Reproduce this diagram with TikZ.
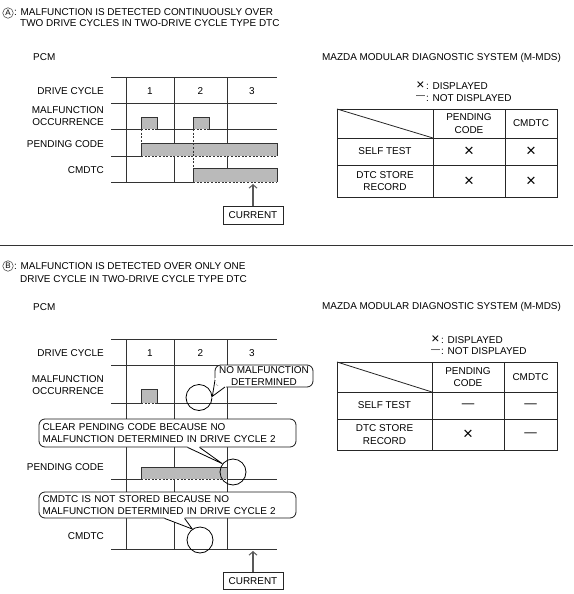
\documentclass[tikz,border=0pt]{standalone}
\usepackage{fontspec}
\setmainfont{Liberation Sans}
\usetikzlibrary{arrows.meta,calc}
\begin{document}
\begin{tikzpicture}[x=1pt,y=-1pt,
  txt/.style={inner sep=0pt, font=\fontsize{9.95}{12.5}\selectfont, text=black},
  gl/.style={line width=0.75pt, draw=black!80},
  dsh/.style={dash pattern=on 2pt off 1.6pt},
  barfill/.style={fill=black!27},
  tl/.style={line width=0.8pt, draw=black!85},
  sym/.style={inner sep=0pt, font=\fontsize{17}{17}\selectfont},
  dashsym/.style={inner sep=0pt, font=\fontsize{12.5}{12.5}\selectfont},
  curbox/.style={draw=black!85, line width=0.8pt, inner sep=0pt, minimum width=60pt, minimum height=17.5pt, font=\fontsize{9.95}{12}\selectfont},
  upar/.style={line width=1.3pt, draw=black!65, -{Straight Barb[length=3.5pt,width=8pt,line width=1pt]}},
  callbox/.style={draw=black!90, line width=0.8pt, fill=white, rounded corners=6pt, inner sep=0pt, font=\fontsize{9.95}{12.5}\selectfont},
  ring/.style={circle, draw=black, line width=0.8pt, minimum size=26pt, inner sep=0pt},
  circlab/.style={circle, draw=black!80, line width=0.5pt, inner sep=0pt, minimum size=10.5pt, font=\fontsize{8}{8}\selectfont}
]
\useasboundingbox (0,0) rectangle (573,594);

%%%%%%%%%%%%%%%% SECTION A %%%%%%%%%%%%%%%%
\node[circlab] (cA) at (8,13) {A};
\node[txt, anchor=west] (hA1) at (14,12.5) {: MALFUNCTION IS DETECTED CONTINUOUSLY OVER};
\node[txt, anchor=west] (hA2) at (20,23.5) {TWO DRIVE CYCLES IN TWO-DRIVE CYCLE TYPE DTC};
\node[txt, anchor=west] (pcmA) at (33,57) {PCM};

% grid
\draw[gl] (111,77) -- (277,77);
\draw[gl] (111,103) -- (277,103);
\draw[gl] (111,129) -- (141,129) (157,129) -- (193,129) (209,129) -- (277,129);
\draw[gl] (111,156) -- (141,156);
\draw[gl] (111,182) -- (193,182);
\draw[gl] (126,77) -- (126,182) (174,77) -- (174,182) (227,77) -- (227,168);

% labels
\node[txt, anchor=east] (dcA) at (104,91) {DRIVE CYCLE};
\node[txt, anchor=east, align=right] (moA) at (104,116) {MALFUNCTION\\OCCURRENCE};
\node[txt, anchor=east] (pcA) at (104,144) {PENDING CODE};
\node[txt, anchor=east] (cmA) at (104,170) {CMDTC};
\node[txt] (n1A) at (150,91) {1};
\node[txt] (n2A) at (200.5,91) {2};
\node[txt] (n3A) at (252,91) {3};

% pulses
\fill[barfill] (141,117) rectangle (157,129);
\draw[gl] (141,129) -- (141,117) -- (157,117) -- (157,129);
\draw[gl,dsh] (141,129) -- (157,129);
\fill[barfill] (193,117) rectangle (209,129);
\draw[gl] (193,129) -- (193,117) -- (209,117) -- (209,129);
\draw[gl,dsh] (193,129) -- (209,129);
% pending bar
\fill[barfill] (141,143) rectangle (277,156);
\draw[gl] (141,156) -- (141,143) -- (277,143) -- (277,156);
\draw[gl,dsh] (141,156) -- (277,156);
% cmdtc bar
\fill[barfill] (193,168) rectangle (277,182);
\draw[gl] (193,182) -- (193,168) -- (277,168) -- (277,182);
\draw[gl,dsh] (193,182) -- (277,182);
% dashed verticals
\draw[gl,dsh] (141,129) -- (141,143);
\draw[gl,dsh] (193,129) -- (193,168);

% current
\node[curbox] (curA) at (253,215.5) {CURRENT};
\coordinate (tipA) at (253,184);
\draw[upar] (curA.north) -- (tipA);

% right side
\node[txt] (mdsA) at (441.5,58) {MAZDA MODULAR DIAGNOSTIC SYSTEM (M-MDS)};
\node[txt, anchor=west] (lgA1) at (426,86) {: DISPLAYED};
\node[txt, anchor=west] (lgA2) at (426,98) {: NOT DISPLAYED};
\node[sym, font=\fontsize{14}{14}\selectfont] (lxA) at (420.5,85.5) {×};
\node[dashsym, font=\fontsize{9}{9}\selectfont] (ldA) at (420.5,97.5) {—};

\draw[tl] (337,109) rectangle (557,197);
\draw[tl] (433,109) -- (433,197) (505,109) -- (505,197) (337,138) -- (557,138) (337,165) -- (557,165);
\draw[tl] (337,109) -- (433,138);
\node[txt, align=center] (tApc) at (469,123.5) {PENDING\\CODE};
\node[txt] (tAcm) at (531,123.5) {CMDTC};
\node[txt] (tAst) at (385,151.5) {SELF TEST};
\node[txt, align=center] (tAdr) at (385,181) {DTC STORE\\RECORD};
\node[sym] (tAx1) at (469,152) {×};
\node[sym] (tAx2) at (531,152) {×};
\node[sym] (tAx3) at (469,181.5) {×};
\node[sym] (tAx4) at (531,181.5) {×};

% divider
\draw[line width=0.9pt, draw=black!80] (0,245) -- (573,245);

%%%%%%%%%%%%%%%% SECTION B %%%%%%%%%%%%%%%%
\node[circlab] (cB) at (8,266) {B};
\node[txt, anchor=west] (hB1) at (14,266.5) {: MALFUNCTION IS DETECTED OVER ONLY ONE};
\node[txt, anchor=west] (hB2) at (20,279) {DRIVE CYCLE IN TWO-DRIVE CYCLE TYPE DTC};
\node[txt, anchor=west] (pcmB) at (33,307) {PCM};

% grid
\draw[gl] (111,339) -- (277,339);
\draw[gl] (111,365) -- (277,365);
\draw[gl] (111,403) -- (141,403) (157,403) -- (277,403);
\draw[gl] (111,479) -- (141,479) (227,479) -- (277,479);
\draw[gl] (111,549) -- (277,549);
\draw[gl] (126,339) -- (126,549) (174,339) -- (174,549) (227,339) -- (227,549);

\node[txt, anchor=east] (dcB) at (104,353) {DRIVE CYCLE};
\node[txt, anchor=east, align=right] (moB) at (104,385) {MALFUNCTION\\OCCURRENCE};
\node[txt, anchor=east] (pcB) at (104,467) {PENDING CODE};
\node[txt, anchor=east] (cmB) at (104,536) {CMDTC};
\node[txt] (n1B) at (150,353) {1};
\node[txt] (n2B) at (200.5,353) {2};
\node[txt] (n3B) at (252,353) {3};

% pulse
\fill[barfill] (141,389) rectangle (157,403);
\draw[gl] (141,403) -- (141,389) -- (157,389) -- (157,403);
\draw[gl,dsh] (141,403) -- (157,403);
% pending bar
\fill[barfill] (141,467) rectangle (227,479);
\draw[gl] (141,479) -- (141,467) -- (227,467) -- (227,479);
\draw[gl,dsh] (141,479) -- (227,479);

% rings
\node[ring] (r1) at (199,397.5) {};
\node[ring] (r2) at (233,472) {};
\node[ring] (r3) at (200,540) {};

% callout 1
\node[callbox, minimum width=98pt, minimum height=22pt, align=center] (cb1) at (264,376) {NO MALFUNCTION\\DETERMINED};
\coordinate (w1a) at (215,380);
\coordinate (w1b) at (225,387);
\fill[white] (216.6,378) -- (214.6,378) -- (211.6,398.5) -- (226,387.6) -- (226,385.4) -- (216.6,385.4) -- cycle;
\draw[line width=0.8pt] (w1a) -- (r1.5) -- (w1b);

% callout 2
\node[callbox, minimum width=257pt, minimum height=28pt, text width=250pt, align=left] (cb2) at (167.5,433) {CLEAR PENDING CODE BECAUSE NO\\MALFUNCTION DETERMINED IN DRIVE CYCLE 2};
\fill[white] ([xshift=149pt,yshift=1.2pt]cb2.south west) -- ([xshift=149pt]cb2.south west) -- (r2.142) -- ([xshift=161pt]cb2.south west) -- ([xshift=161pt,yshift=1.2pt]cb2.south west) -- cycle;
\draw[line width=0.8pt] ([xshift=149pt]cb2.south west) -- (r2.142) -- ([xshift=161pt]cb2.south west);

% callout 3
\node[callbox, minimum width=257pt, minimum height=26pt, text width=250pt, align=left] (cb3) at (167.5,505) {CMDTC IS NOT STORED BECAUSE NO\\MALFUNCTION DETERMINED IN DRIVE CYCLE 2};
\fill[white] ([xshift=126pt,yshift=1.2pt]cb3.south west) -- ([xshift=126pt]cb3.south west) -- (r3.125) -- ([xshift=146pt]cb3.south west) -- ([xshift=146pt,yshift=1.2pt]cb3.south west) -- cycle;
\draw[line width=0.8pt] ([xshift=126pt]cb3.south west) -- (r3.125) -- ([xshift=146pt]cb3.south west);

% current
\node[curbox] (curB) at (253,581) {CURRENT};
\coordinate (tipB) at (253,551);
\draw[upar] (curB.north) -- (tipB);

% right side
\node[txt] (mdsB) at (441.5,307) {MAZDA MODULAR DIAGNOSTIC SYSTEM (M-MDS)};
\node[txt, anchor=west] (lgB1) at (441,340) {: DISPLAYED};
\node[txt, anchor=west] (lgB2) at (441,351.5) {: NOT DISPLAYED};
\node[sym, font=\fontsize{14}{14}\selectfont] (lxB) at (435.5,339.5) {×};
\node[dashsym, font=\fontsize{9}{9}\selectfont] (ldB) at (435.5,351) {—};

\draw[tl] (337,362) rectangle (557,450);
\draw[tl] (432,362) -- (432,450) (504,362) -- (504,450) (337,392) -- (557,392) (337,419) -- (557,419);
\draw[tl] (337,362) -- (432,392);
\node[txt, align=center] (tBpc) at (468,377) {PENDING\\CODE};
\node[txt] (tBcm) at (530.5,377) {CMDTC};
\node[txt] (tBst) at (384.5,405.5) {SELF TEST};
\node[txt, align=center] (tBdr) at (384.5,434.5) {DTC STORE\\RECORD};
\node[dashsym] (tBx1) at (468,405.5) {—};
\node[dashsym] (tBx2) at (530.5,405.5) {—};
\node[sym] (tBx3) at (468,435) {×};
\node[dashsym] (tBx5) at (530.5,435) {—};
\end{tikzpicture}
\end{document}
